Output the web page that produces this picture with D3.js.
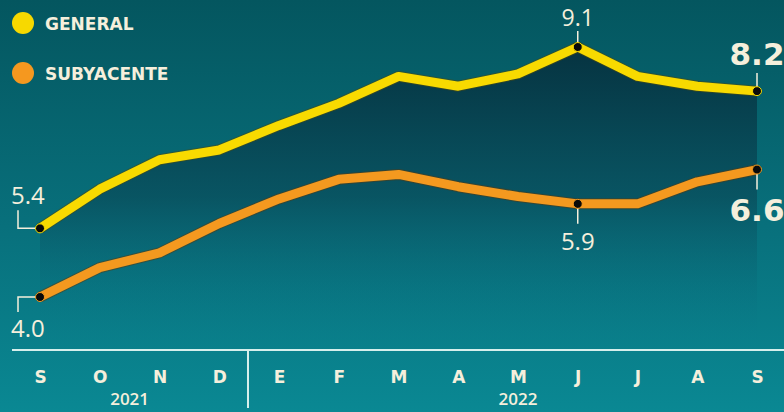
<!DOCTYPE html>
<html>
<head>
<meta charset="utf-8">
<script src="https://cdn.jsdelivr.net/npm/d3@7"></script>
<style>
  html, body { margin: 0; padding: 0; background: #06606a; }
  svg { display: block; }
</style>
</head>
<body>
<div id="chart"></div>
<script>
// Data (inflation, %)
const months = ["S", "O", "N", "D", "E", "F", "M", "A", "M", "J", "J", "A", "S"];
const general = [5.4, 6.2, 6.8, 7.0, 7.5, 7.95, 8.5, 8.3, 8.55, 9.1, 8.5, 8.3, 8.2];
const subyacente = [4.0, 4.6, 4.9, 5.5, 6.0, 6.4, 6.5, 6.25, 6.05, 5.9, 5.9, 6.35, 6.6];
const years = [{label: "2021", at: 1.5}, {label: "2022", at: 8}];
const legendItems = [{name: "GENERAL", color: "#f7d900"}, {name: "SUBYACENTE", color: "#f5981f"}];

const width = 784, height = 412;
const cream = "#f5efdc";

const svg = d3.select("#chart").append("svg")
  .attr("width", width)
  .attr("height", height);

const defs = svg.append("defs");

const bg = defs.append("linearGradient")
  .attr("id", "bg").attr("x1", 0).attr("y1", 0).attr("x2", 0).attr("y2", 1);
bg.append("stop").attr("offset", 0).attr("stop-color", "#04565f");
bg.append("stop").attr("offset", 0.55).attr("stop-color", "#08707c");
bg.append("stop").attr("offset", 1).attr("stop-color", "#0a8893");

const areaGrad = defs.append("linearGradient")
  .attr("id", "areaGrad").attr("gradientUnits", "userSpaceOnUse")
  .attr("x1", 0).attr("y1", 45).attr("x2", 0).attr("y2", 350);
areaGrad.append("stop").attr("offset", 0).attr("stop-color", "#06303e").attr("stop-opacity", 0.95);
areaGrad.append("stop").attr("offset", 0.5).attr("stop-color", "#094857").attr("stop-opacity", 0.65);
areaGrad.append("stop").attr("offset", 1).attr("stop-color", "#0a8090").attr("stop-opacity", 0);

svg.append("rect").attr("width", width).attr("height", height).attr("fill", "url(#bg)");

// scales
const x = d3.scaleLinear().domain([0, months.length - 1]).range([40, 757]);
const y = d3.scaleLinear().domain([4.0, 9.1]).range([297, 47]);
const baseY = 350;

// shaded area under the general line
const area = d3.area()
  .x((d, i) => x(i))
  .y0(baseY)
  .y1(d => y(d));

svg.append("path")
  .datum(general)
  .attr("d", area)
  .attr("fill", "url(#areaGrad)");

const line = d3.line()
  .x((d, i) => x(i))
  .y(d => y(d));

function drawSeries(values, color, edge) {
  svg.append("path")
    .datum(values)
    .attr("d", line)
    .attr("fill", "none")
    .attr("stroke", edge)
    .attr("stroke-width", 11)
    .attr("stroke-linejoin", "round")
    .attr("stroke-opacity", 0.55);
  svg.append("path")
    .datum(values)
    .attr("d", line)
    .attr("fill", "none")
    .attr("stroke", color)
    .attr("stroke-width", 9)
    .attr("stroke-linejoin", "round");
}

drawSeries(subyacente, "#f4991f", "#5a3a10");
drawSeries(general, "#f8da00", "#4a4a10");

// axis
svg.append("line")
  .attr("x1", 12).attr("x2", width)
  .attr("y1", baseY).attr("y2", baseY)
  .attr("stroke", "#d6efec").attr("stroke-width", 2);

svg.append("line")
  .attr("x1", 248).attr("x2", 248)
  .attr("y1", baseY).attr("y2", 408)
  .attr("stroke", "#d6efec").attr("stroke-width", 2);

const xAxis = svg.append("g")
  .attr("transform", `translate(0,${baseY})`)
  .call(d3.axisBottom(x)
    .tickValues(d3.range(months.length))
    .tickFormat(i => months[i])
    .tickSize(0));

xAxis.select(".domain").remove();
xAxis.selectAll("text")
  .attr("y", 33)
  .attr("dy", 0)
  .attr("fill", cream)
  .style("font-family", "DejaVu Sans, sans-serif")
  .style("font-weight", "bold")
  .style("font-size", "17px");

svg.selectAll(".year")
  .data(years)
  .enter().append("text")
  .attr("class", "year")
  .attr("x", d => x(d.at))
  .attr("y", 405)
  .attr("text-anchor", "middle")
  .attr("fill", cream)
  .style("font-family", "Open Sans, sans-serif")
  .style("font-weight", 600)
  .style("font-size", "17px")
  .text(d => d.label);

// legend
const legend = svg.selectAll(".legend")
  .data(legendItems)
  .enter().append("g")
  .attr("class", "legend")
  .attr("transform", (d, i) => `translate(23,${23 + i * 50})`);

legend.append("circle")
  .attr("r", 11)
  .attr("fill", d => d.color);

legend.append("text")
  .attr("x", 22)
  .attr("y", 6.5)
  .attr("fill", cream)
  .style("font-family", "DejaVu Sans, sans-serif")
  .style("font-weight", "bold")
  .style("font-size", "17px")
  .text(d => d.name);

// value annotations
const notes = [
  {series: general, i: 0, text: "5.4", kind: "left-up", big: false},
  {series: subyacente, i: 0, text: "4.0", kind: "left-down", big: false},
  {series: general, i: 9, text: "9.1", kind: "up", big: false},
  {series: subyacente, i: 9, text: "5.9", kind: "down", big: false},
  {series: general, i: 12, text: "8.2", kind: "up", big: true},
  {series: subyacente, i: 12, text: "6.6", kind: "down", big: true}
];

const leader = d3.line();

notes.forEach(n => {
  const px = x(n.i), py = y(n.series[n.i]);
  let pts, tx, ty, anchor;
  if (n.kind === "left-up") {
    pts = [[px, py], [18, py], [18, py - 18]];
    tx = 11; ty = py - 24; anchor = "start";
  } else if (n.kind === "left-down") {
    pts = [[px, py], [18, py], [18, py + 15]];
    tx = 11; ty = py + 40; anchor = "start";
  } else if (n.kind === "up") {
    pts = [[px, py - 4], [px, py - (n.big ? 18 : 16)]];
    tx = px; ty = py - (n.big ? 26 : 21); anchor = "middle";
  } else {
    pts = [[px, py + 4], [px, py + 20]];
    tx = px; ty = py + (n.big ? 51 : 46); anchor = "middle";
  }
  svg.append("path")
    .attr("d", leader(pts))
    .attr("fill", "none")
    .attr("stroke", cream)
    .attr("stroke-width", 1.5);
  svg.append("text")
    .attr("x", tx)
    .attr("y", ty)
    .attr("text-anchor", anchor)
    .attr("fill", cream)
    .style("font-family", n.big ? "DejaVu Sans, sans-serif" : "Open Sans, sans-serif")
    .style("font-weight", n.big ? "bold" : 500)
    .style("font-size", n.big ? "31px" : (n.kind === "up" ? "23px" : "24px"))
    .text(n.text);
  svg.append("circle")
    .attr("cx", px)
    .attr("cy", py)
    .attr("r", 4.5)
    .attr("fill", "#0a0a0a")
    .attr("stroke", n.series === general ? "#f8da00" : "#f4991f")
    .attr("stroke-width", 1);
});
</script>
</body>
</html>
